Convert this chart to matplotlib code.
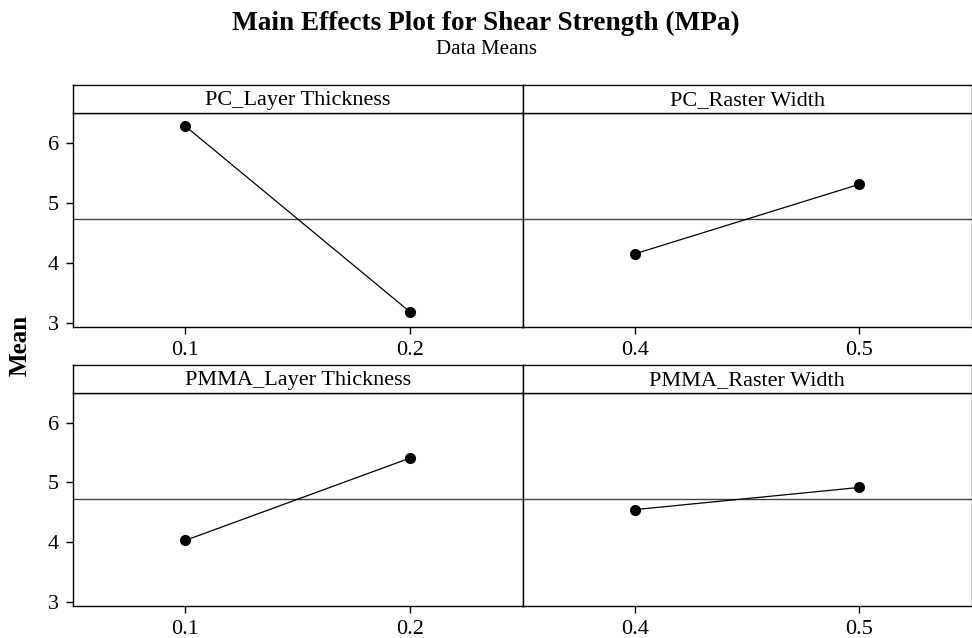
import numpy as np
import matplotlib
matplotlib.use("Agg")
import matplotlib.pyplot as plt

plt.rcParams['font.family'] = ['Liberation Serif', 'DejaVu Serif']

# factor names, levels and mean shear strength (MPa) at each level
factors = ['PC_Layer Thickness', 'PC_Raster Width', 'PMMA_Layer Thickness', 'PMMA_Raster Width']
levels = [[0.1, 0.2], [0.4, 0.5], [0.1, 0.2], [0.4, 0.5]]
means = [[6.28, 3.18], [4.15, 5.31], [4.03, 5.41], [4.545, 4.917]]
xlims = [(0.05, 0.25), (0.35, 0.55), (0.05, 0.25), (0.35, 0.55)]

grand_mean = np.mean(means)

W, H = 972, 638
fig = plt.figure(figsize=(W / 100, H / 100), dpi=100)

# panel boxes in pixels: left, right, header top, header bottom, plot bottom
cols = [(73, 522.5), (522.5, 971.5)]
rows = [(85, 113, 327), (365, 393, 606)]

for i, name in enumerate(factors):
    r, c = divmod(i, 2)
    x0, x1 = cols[c]
    ht, hb, pb = rows[r]
    ax = fig.add_axes([x0 / W, 1 - pb / H, (x1 - x0) / W, (pb - hb) / H])
    hax = fig.add_axes([x0 / W, 1 - hb / H, (x1 - x0) / W, (hb - ht) / H])
    hax.set_xticks([])
    hax.set_yticks([])
    hax.text(0.5, 0.45, name, ha='center', va='center', fontsize=16, transform=hax.transAxes)
    for s in hax.spines.values():
        s.set_linewidth(1.0)

    ax.axhline(grand_mean, color='#444444', lw=1.0, zorder=1)
    ax.plot(levels[i], means[i], color='black', lw=0.9, marker='o', markersize=7, zorder=3)
    ax.set_xlim(*xlims[i])
    ax.set_ylim(2.93, 6.5)
    ax.set_xticks(levels[i])
    ax.set_xticklabels([str(v) for v in levels[i]])
    ax.set_yticks([3, 4, 5, 6])
    ax.tick_params(direction='out', length=5, width=1, labelsize=16, pad=5)
    if c == 1:
        ax.tick_params(axis='y', left=False, labelleft=False)
    for s in ax.spines.values():
        s.set_linewidth(1.0)

fig.text(0.5, 0.964, 'Main Effects Plot for Shear Strength (MPa)', ha='center', va='center',
         fontsize=19.6, fontweight='bold')
fig.text(0.5, 0.922, 'Data Means', ha='center', va='center', fontsize=15)
fig.text(0.021, 0.459, 'Mean', rotation=90, ha='center', va='center', fontsize=18, fontweight='bold')

fig.savefig('out.png', dpi=100)
